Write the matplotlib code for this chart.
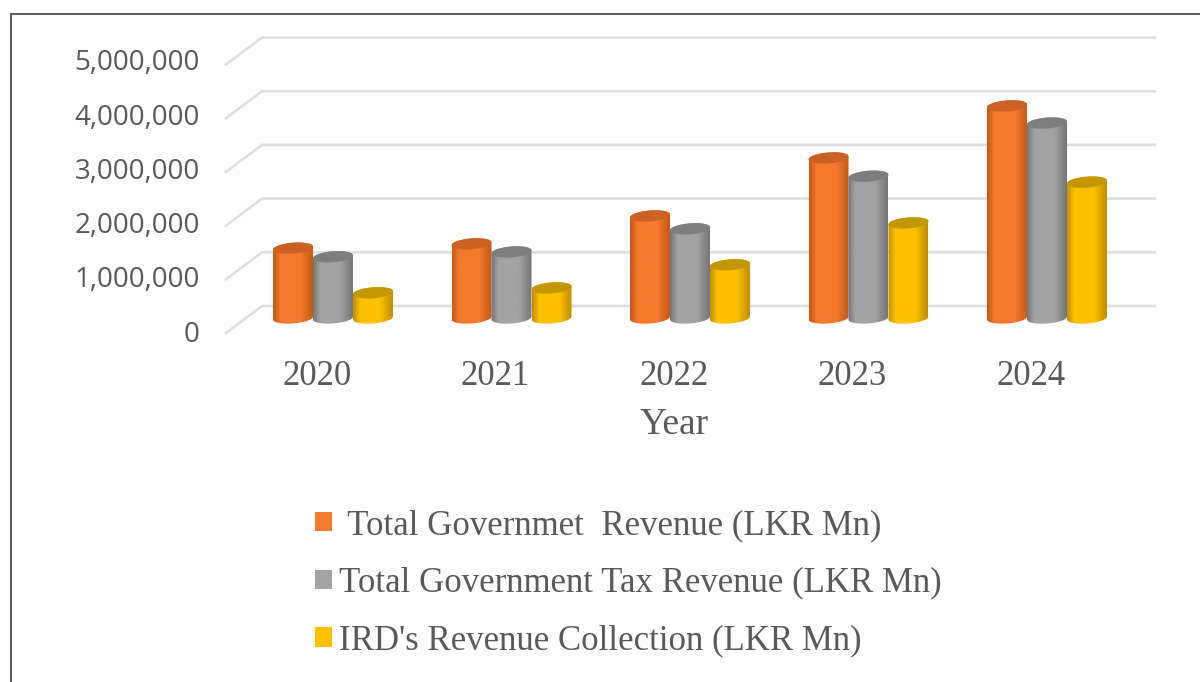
import numpy as np
import matplotlib
matplotlib.use("Agg")
import matplotlib.pyplot as plt
from matplotlib.colors import LinearSegmentedColormap
from matplotlib.patches import Patch, Polygon, Rectangle
from matplotlib.ticker import FuncFormatter

years = ["2020", "2021", "2022", "2023", "2024"]
total_revenue = [1300000, 1380000, 1900000, 2980000, 3950000]
tax_revenue = [1140000, 1230000, 1660000, 2640000, 3630000]
ird_revenue = [470000, 560000, 990000, 1770000, 2530000]
series_names = [" Total Governmet  Revenue (LKR Mn)",
                "Total Government Tax Revenue (LKR Mn)",
                "IRD's Revenue Collection (LKR Mn)"]
series_values = [total_revenue, tax_revenue, ird_revenue]
base_colors = ["#F57A2B", "#A3A3A3", "#FFC000"]
edge_colors = ["#C4591A", "#757575", "#BE9000"]
top_colors = ["#CB6223", "#7E7E7E", "#C49600"]
y_ticks = [0, 1000000, 2000000, 3000000, 4000000, 5000000]

W, H = 1200, 682
fig = plt.figure(figsize=(12, 6.82), dpi=100, facecolor="white")
fig.add_artist(Rectangle((11 / W, -0.1), 1.2, 1 - 14 / H + 0.1, transform=fig.transFigure,
                         facecolor="#FEFEFE", edgecolor="#5A5A5A", linewidth=1.4, zorder=-5))

PX_L, PX_R, PX_B, PX_T = 226, 1155, 334, 25
ZERO_PX, PPM = 318, 53.7 / 1e6      # main plot scale: pixels per value
CAT_PX, CAT_STEP = 317, 178.5

ax = fig.add_axes([PX_L / W, 1 - PX_B / H, (PX_R - PX_L) / W, (PX_B - PX_T) / H])
ax.patch.set_alpha(0)
ax.set_xlim((PX_L - CAT_PX) / CAT_STEP, (PX_R - CAT_PX) / CAT_STEP)
ax.set_ylim((ZERO_PX - PX_B) / PPM, (ZERO_PX - PX_T) / PPM)
for s in ax.spines.values():
    s.set_visible(False)
ax.set_yticks([])

# back wall + side wall gridlines
xf, xb, xr = ax.get_xlim()[0], (262 - CAT_PX) / CAT_STEP, ax.get_xlim()[1]
for v in y_ticks:
    ax.plot([xf, xb, xr], [v - 15 / PPM, v + 12 / PPM, v + 12 / PPM],
            color="#DEDEDE", lw=1.9, solid_joinstyle="miter", zorder=1, clip_on=False)

# cylinders
bw = 40 / CAT_STEP
shift = [-24 / CAT_STEP, 16 / CAT_STEP, 56 / CAT_STEP]
eh = 5.5 / PPM
tilt = 1.5 / PPM
t = np.linspace(0, 2 * np.pi, 120)
for j, vals in enumerate(series_values):
    cmap = LinearSegmentedColormap.from_list(
        "c", [(0, edge_colors[j]), (0.18, base_colors[j]), (0.68, base_colors[j]), (1, edge_colors[j])])
    xs = [i + shift[j] for i in range(len(years))]
    bars = ax.bar(xs, vals, width=bw, color=base_colors[j], zorder=3 + j * 0.1, linewidth=0)
    for xc, v, b in zip(xs, vals, bars):
        a = bw / 2
        tb = np.linspace(np.pi, 2 * np.pi, 40)
        tt = np.linspace(0, np.pi, 40)
        px = np.r_[xc + a * np.cos(tb), xc + a * np.cos(tt)]
        py = np.r_[eh * np.sin(tb) + tilt * np.cos(tb), v + eh * np.sin(tt) + tilt * np.cos(tt)]
        shape = Polygon(np.c_[px, py], closed=True, transform=ax.transData, facecolor="none", edgecolor="none")
        ax.add_patch(shape)
        b.set_visible(False)
        im = ax.imshow(np.linspace(0, 1, 64)[None, :], cmap=cmap, aspect="auto",
                       extent=[xc - a, xc + a, -eh - tilt, v + eh + tilt],
                       zorder=3 + j * 0.1, interpolation="bilinear")
        im.set_clip_path(shape)
        ax.fill(xc + a * np.cos(t), v + eh * np.sin(t) + tilt * np.cos(t),
                color=top_colors[j], lw=0, zorder=3.05 + j * 0.1)
ax.set_xlim(xf, xr)
ax.set_ylim((ZERO_PX - PX_B) / PPM, (ZERO_PX - PX_T) / PPM)

ax.set_xticks(range(len(years)))
ax.set_xticklabels(years, family="Liberation Serif", fontsize=25, color="#595959")
ax.tick_params(axis="x", length=0, pad=19)
ax.set_xlabel("Year", family="Liberation Serif", fontsize=27, color="#595959")
ax.xaxis.set_label_coords((674 - PX_L) / (PX_R - PX_L), -(407 - PX_B) / (PX_B - PX_T), transform=ax.transAxes)

# value axis on the front plane
front = fig.add_axes([PX_L / W, 1 - 331 / H, 10 / W, 271 / H])
front.patch.set_alpha(0)
front.set_ylim(0, 5000000)
front.set_xticks([])
front.set_yticks(y_ticks)
front.yaxis.set_major_formatter(FuncFormatter(lambda v, _: f"{int(v):,}"))
front.tick_params(axis="y", length=0, pad=19, labelsize=20, labelcolor="#595959")
for lab in front.get_yticklabels():
    lab.set_family("Open Sans")
for s in front.spines.values():
    s.set_visible(False)

handles = [Patch(facecolor=c, edgecolor="none") for c in base_colors]
leg = fig.legend(handles, series_names, loc="upper left", bbox_to_anchor=(315 / W, 1 - 509 / H),
                 bbox_transform=fig.transFigure, frameon=False, borderpad=0, borderaxespad=0,
                 handlelength=0.49, handleheight=0.49, handletextpad=0.2, labelspacing=0.71,
                 prop={"family": "Liberation Serif", "size": 25}, labelcolor="#595959")

fig.savefig("out.png", dpi=100)
